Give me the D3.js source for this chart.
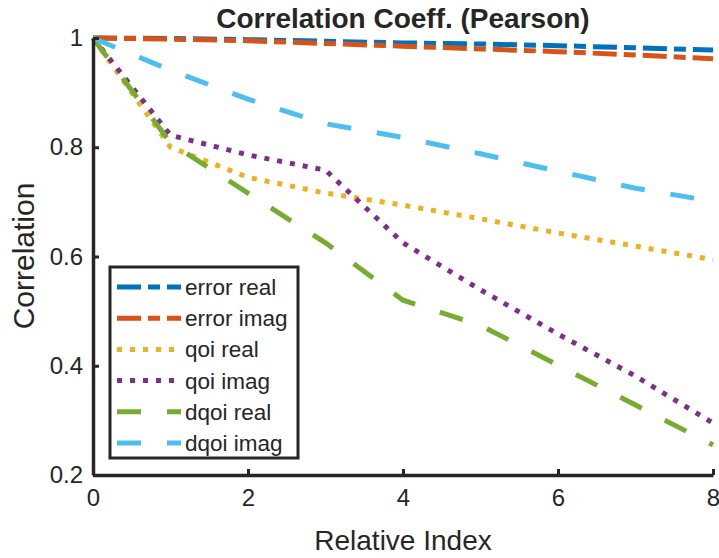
<!DOCTYPE html>
<html>
<head>
<meta charset="utf-8">
<script src="https://cdn.jsdelivr.net/npm/d3@7"></script>
<style>
  body { margin: 0; background: #fff; }
  text { font-family: "Liberation Sans", Arial, sans-serif; fill: #262626; }
</style>
</head>
<body>
<div id="chartHolder"></div>
<script>
// data
const xIndex = [0, 1, 2, 3, 4, 5, 6, 7, 8];
const seriesNames = ["error real", "error imag", "qoi real", "qoi imag", "dqoi real", "dqoi imag"];
const errorReal = [1, 0.999, 0.997, 0.994, 0.991, 0.989, 0.986, 0.982, 0.978];
const errorImag = [1, 0.998, 0.995, 0.990, 0.985, 0.980, 0.975, 0.969, 0.962];
const qoiReal   = [1, 0.80, 0.745, 0.716, 0.694, 0.669, 0.643, 0.619, 0.594];
const qoiImag   = [1, 0.822, 0.786, 0.758, 0.625, 0.539, 0.458, 0.381, 0.295];
const dqoiReal  = [1, 0.808, 0.716, 0.625, 0.52, 0.474, 0.401, 0.328, 0.255];
const dqoiImag  = [1, 0.941, 0.888, 0.843, 0.818, 0.788, 0.756, 0.725, 0.701];
const xTicks = [0, 2, 4, 6, 8];
const yTicks = [0.2, 0.4, 0.6, 0.8, 1];
const yTickLabels = ["0.2", "0.4", "0.6", "0.8", "1"];

const colors = ["#0072BD", "#D95319", "#EDB120", "#7E2F8E", "#77AC30", "#4DBEEE"];
const dashes = ["24,7,12,7", "24,7,12,7", "5,8", "5,8", "24,26", "24,26"];
const allSeries = [errorReal, errorImag, qoiReal, qoiImag, dqoiReal, dqoiImag];

const width = 719;
const height = 558;
const svg = d3.select("#chartHolder")
  .append("svg")
  .attr("width", width)
  .attr("height", height);

const xScale = d3.scaleLinear().domain([0, 8]).range([93, 713]);
const yScale = d3.scaleLinear().domain([0.2, 1]).range([475, 38]);

// lines
const line = d3.line()
  .x((d, i) => xScale(xIndex[i]))
  .y(d => yScale(d));

svg.selectAll(".series")
  .data(allSeries)
  .enter()
  .append("path")
  .attr("class", "series")
  .attr("d", d => line(d))
  .attr("fill", "none")
  .attr("stroke", (d, i) => colors[i])
  .attr("stroke-width", 5)
  .attr("stroke-dasharray", (d, i) => dashes[i]);

// axes (only left + bottom, ticks pointing in)
const xAxis = d3.axisBottom(xScale)
  .tickValues(xTicks)
  .tickSizeInner(-6)
  .tickSizeOuter(0)
  .tickPadding(14)
  .tickFormat(d3.format("d"));
const gx = svg.append("g")
  .attr("transform", "translate(0," + 475 + ")")
  .call(xAxis);

const yAxis = d3.axisLeft(yScale)
  .tickValues(yTicks)
  .tickSizeInner(-6)
  .tickSizeOuter(0)
  .tickPadding(10)
  .tickFormat((d, i) => yTickLabels[i]);
const gy = svg.append("g")
  .attr("transform", "translate(" + 93 + ",0)")
  .call(yAxis);

[gx, gy].forEach(g => {
  g.select(".domain").attr("stroke", "#262626").attr("stroke-width", 3.5);
  g.selectAll(".tick line").attr("stroke", "#262626").attr("stroke-width", 3);
  g.selectAll(".tick text")
    .style("font-size", "24px")
    .attr("fill", "#333")
    .style("font-family", "Liberation Sans, Arial, sans-serif");
});

// title and axis labels
svg.append("text")
  .attr("x", 403)
  .attr("y", 28)
  .attr("text-anchor", "middle")
  .style("font-size", "28px")
  .style("font-weight", "bold")
  .attr("fill", "#000")
  .text("Correlation Coeff. (Pearson)");

svg.append("text")
  .attr("x", 403)
  .attr("y", 550)
  .attr("text-anchor", "middle")
  .style("font-size", "28px")
  .text("Relative Index");

svg.append("text")
  .attr("transform", "rotate(-90)")
  .attr("x", -256)
  .attr("y", 34)
  .attr("text-anchor", "middle")
  .style("font-size", "30px")
  .text("Correlation");

// legend
const legend = svg.append("g");
legend.append("rect")
  .attr("x", 110)
  .attr("y", 267)
  .attr("width", 188)
  .attr("height", 191)
  .attr("fill", "#fff")
  .attr("stroke", "#262626")
  .attr("stroke-width", 3);

seriesNames.forEach((name, i) => {
  const y = 287 + i * 31.2;
  legend.append("line")
    .attr("x1", 117)
    .attr("x2", 181)
    .attr("y1", y)
    .attr("y2", y)
    .attr("stroke", colors[i])
    .attr("stroke-width", 5)
    .attr("stroke-dasharray", dashes[i]);
  legend.append("text")
    .attr("x", 185)
    .attr("y", y + 8)
    .style("font-size", "22.5px")
    .text(name);
});
</script>
</body>
</html>
